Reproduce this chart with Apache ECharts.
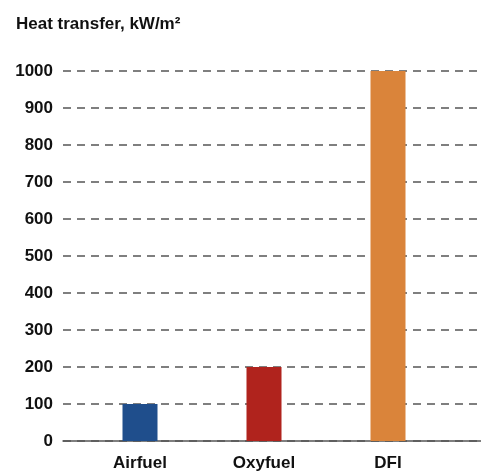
<!DOCTYPE html>
<html><head><meta charset="utf-8">
<script src="https://cdn.jsdelivr.net/npm/echarts@6/dist/echarts.min.js"></script>
<style>html,body{margin:0;padding:0;background:#fff}#c{width:481px;height:472px}</style>
</head><body><div id="c"></div>
<script>
const categories = ['Airfuel', 'Oxyfuel', 'DFI'];
const values = [100, 200, 1000];
const colors = ['#1f4e8c', '#b0231d', '#da843a'];
const yTicks = [0, 100, 200, 300, 400, 500, 600, 700, 800, 900, 1000];
const titleText = 'Heat transfer, kW/m\u00B2';

const chart = echarts.init(document.getElementById('c'));
const font = 'Liberation Sans, Arial, sans-serif';
chart.setOption({
  animation: false,
  title: { text: titleText, left: 11, top: 11, textStyle: { fontFamily: font, fontSize: 17, fontWeight: 'bold', color: '#111' } },
  grid: [
    { left: 63, right: 0, top: 71, bottom: 31 },
    { left: 78, right: 31, top: 71, bottom: 31 }
  ],
  xAxis: [
    { type: 'category', gridIndex: 0, data: categories, axisLine: { lineStyle: { color: '#555', width: 1.5 } }, axisTick: { show: false }, axisLabel: { show: false } },
    { type: 'category', gridIndex: 1, data: categories, axisLine: { show: false }, axisTick: { show: false },
      axisLabel: { margin: 14, fontFamily: font, fontSize: 17, fontWeight: 'bold', color: '#111' } }
  ],
  yAxis: [
    { type: 'value', gridIndex: 0, min: yTicks[0], max: yTicks[yTicks.length - 1], interval: 100,
      axisLine: { show: false }, axisTick: { show: false },
      axisLabel: { margin: 10, fontFamily: font, fontSize: 17, fontWeight: 'bold', color: '#111', formatter: v => String(v) },
      splitLine: { lineStyle: { color: '#555', width: 1.5, type: [8, 6] } } },
    { type: 'value', gridIndex: 1, min: yTicks[0], max: yTicks[yTicks.length - 1], interval: 100, show: false, splitLine: { show: false } }
  ],
  series: [{
    type: 'bar', xAxisIndex: 1, yAxisIndex: 1, barWidth: 35,
    data: values.map((v, i) => ({ value: v, itemStyle: { color: colors[i] } }))
  }]
});
</script></body></html>
